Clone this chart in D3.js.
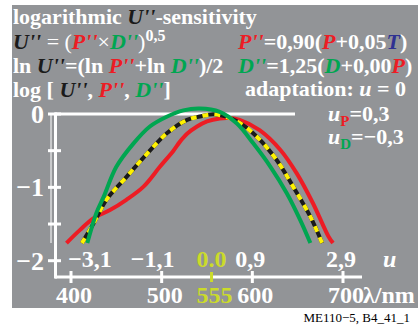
<!DOCTYPE html>
<html>
<head>
<meta charset="utf-8">
<script src="https://cdn.jsdelivr.net/npm/d3@7"></script>
<style>
body { margin: 0; background: #fff; }
svg { display: block; }
text { font-family: "Liberation Serif", "Times New Roman", serif; }
</style>
</head>
<body>
<div id="chart"></div>
<script>
// curves: wavelength (nm) and log sensitivity
const pLambda = [395, 410, 425, 443, 461, 480, 498, 513, 520, 528, 539, 550, 564, 575, 586, 608, 631, 649, 667, 684, 689];
const pValue  = [-1.76, -1.58, -1.42, -1.31, -1.17, -0.99, -0.72, -0.50, -0.38, -0.27, -0.17, -0.10, -0.06, -0.055, -0.08, -0.22, -0.49, -0.81, -1.22, -1.67, -1.76];

const dLambda = [418, 428, 436, 450, 469, 487, 505, 524, 542, 564, 583, 601, 620, 638, 653, 664];
const dValue  = [-1.76, -1.35, -1.13, -0.72, -0.40, -0.17, -0.04, 0.05, 0.075, 0.03, -0.13, -0.40, -0.72, -1.08, -1.45, -1.76];

const uLambda = [412, 425, 439, 461, 484, 506, 528, 542, 558, 583, 605, 627, 645, 664, 677];
const uValue  = [-1.76, -1.49, -1.17, -0.86, -0.54, -0.26, -0.08, -0.035, -0.005, -0.10, -0.31, -0.63, -0.99, -1.40, -1.76];

const lambdaTicks = [400, 500, 555, 600, 700];
const lambdaLabels = ["400", "500", "555", "600", "700"];
const uLabels = ["\u22123,1", "\u22121,1", "0.0", "0,9", "2,9"];
const yTicks = [0, -0.5, -1, -1.5, -2];
const yLabelValues = [0, -1, -2];
const yLabelText = ["0", "\u22121", "\u22122"];

const W = 418, H = 326;
const RED = "#ed1c24", GREEN = "#00a651", BLUE = "#2e3192", BLACK = "#1a1a1a";
const YG = "#cbdb2a", YEL = "#fff200", GRAY = "#929497";

const svg = d3.select("#chart").append("svg").attr("width", W).attr("height", H);

svg.append("rect").attr("x", 12).attr("y", 5).attr("width", 406).attr("height", 303).attr("fill", GRAY);

const x = d3.scaleLinear().domain([400, 700]).range([71, 343]);
const y = d3.scaleLinear().domain([0, -2]).range([114, 260.7]);

// rich text: parts are [text, style]
const styles = {
    w:  {fill: "#fff"},
    wn: {fill: "#fff", weight: "normal"},
    wi: {fill: "#fff", italic: true},
    k:  {fill: BLACK, italic: true},
    r:  {fill: RED, italic: true},
    g:  {fill: GREEN, italic: true},
    b:  {fill: BLUE, italic: true},
    rs: {fill: RED, size: 15, dy: 5},
    gs: {fill: GREEN, size: 15, dy: 5},
    sup: {fill: "#fff", size: 16, dy: -8}
};
function rich(px, py, parts, size) {
    const t = svg.append("text").attr("x", px).attr("y", py).attr("font-size", size);
    let shift = 0;
    parts.forEach(function (p) {
        const s = styles[p[1]];
        const d = (s.dy || 0) - shift;
        shift = s.dy || 0;
        t.append("tspan")
            .attr("dy", d)
            .attr("fill", s.fill)
            .attr("font-size", s.size || size)
            .style("font-style", s.italic ? "italic" : "normal")
            .style("font-weight", s.weight || "bold")
            .text(p[0]);
    });
    return t;
}

rich(13, 24, [["logarithmic ", "w"], ["U''", "k"], ["-sensitivity", "w"]], 22);
rich(13, 49, [["U''", "k"], [" = (", "wn"], ["P''", "r"], ["\u00d7", "wn"], ["D''", "g"], [")", "wn"], ["0,5", "sup"]], 22);
rich(13, 73, [["ln ", "w"], ["U''", "k"], ["=(ln ", "w"], ["P''", "r"], ["+ln ", "w"], ["D''", "g"], [")/2", "w"]], 22);
rich(13, 97, [["log [ ", "w"], ["U''", "k"], [", ", "w"], ["P''", "r"], [", ", "w"], ["D''", "g"], ["]", "w"]], 22);

rich(238, 49, [["P''", "r"], ["=0,90(", "w"], ["P", "r"], ["+0,05", "w"], ["T", "b"], [")", "w"]], 22);
rich(238, 73, [["D''", "g"], ["=1,25(", "w"], ["D", "g"], ["+0,00", "w"], ["P", "r"], [")", "w"]], 22);
rich(245, 96, [["adaptation: ", "w"], ["u", "wi"], [" = 0", "w"]], 22);

rich(328, 121, [["u", "wi"], ["P", "rs"], ["=0,3", "w"]], 22);
rich(328, 144, [["u", "wi"], ["D", "gs"], ["=\u22120,3", "w"]], 22);

// axes
svg.append("line").attr("x1", 51).attr("x2", 51).attr("y1", y(0) - 1).attr("y2", 243)
    .attr("stroke", "#fff").attr("stroke-width", 1);
svg.append("line").attr("x1", 55.5).attr("x2", 55.5).attr("y1", y(0) - 1.5).attr("y2", 278.5)
    .attr("stroke", "#fff").attr("stroke-width", 3);
svg.append("line").attr("x1", 55).attr("x2", 362).attr("y1", 277).attr("y2", 277)
    .attr("stroke", "#fff").attr("stroke-width", 3);
svg.append("line").attr("x1", 55).attr("x2", 295).attr("y1", y(0)).attr("y2", y(0))
    .attr("stroke", "#fff").attr("stroke-width", 3);

svg.selectAll("line.ytick").data(yTicks).enter().append("line")
    .attr("class", "ytick")
    .attr("x1", 48).attr("x2", 61)
    .attr("y1", d => y(d)).attr("y2", d => y(d))
    .attr("stroke", "#fff").attr("stroke-width", 3);

svg.selectAll("text.ylab").data(yLabelValues).enter().append("text")
    .attr("class", "ylab")
    .attr("x", 44).attr("y", d => y(d) + 9)
    .attr("text-anchor", "end").attr("font-size", 26).attr("fill", "#fff")
    .style("font-weight", "bold")
    .text((d, i) => yLabelText[i]);

svg.selectAll("line.xtick").data(lambdaTicks).enter().append("line")
    .attr("class", "xtick")
    .attr("x1", d => x(d)).attr("x2", d => x(d))
    .attr("y1", d => d === 555 ? 272 : 271).attr("y2", d => d === 555 ? 282 : 283)
    .attr("stroke", d => d === 555 ? YG : "#fff").attr("stroke-width", 3);

svg.selectAll("text.xlab").data(lambdaTicks).enter().append("text")
    .attr("class", "xlab")
    .attr("x", d => x(d) + 3).attr("y", 303)
    .attr("text-anchor", "middle").attr("font-size", 24)
    .attr("fill", d => d === 555 ? YG : "#fff")
    .style("font-weight", "bold")
    .text((d, i) => lambdaLabels[i]);
svg.append("text").attr("x", 363).attr("y", 303).attr("font-size", 24).attr("fill", "#fff")
    .style("font-weight", "bold")
    .text("\u03bb/nm");

const uShift = [19, -9, 0, -2, -2];
svg.selectAll("text.ulab").data(lambdaTicks).enter().append("text")
    .attr("class", "ulab")
    .attr("x", (d, i) => x(d) + uShift[i]).attr("y", 267)
    .attr("text-anchor", "middle").attr("font-size", 24)
    .attr("fill", d => d === 555 ? YG : "#fff")
    .style("font-weight", "bold")
    .text((d, i) => uLabels[i]);
svg.append("text").attr("x", 383).attr("y", 267).attr("font-size", 24).attr("fill", "#fff")
    .style("font-weight", "bold").style("font-style", "italic").text("u");

// curves
const line = d3.line().x(d => x(d[0])).y(d => y(d[1])).curve(d3.curveCatmullRom.alpha(0.5));
const pData = d3.zip(pLambda, pValue);
const dData = d3.zip(dLambda, dValue);
const uData = d3.zip(uLambda, uValue);

svg.append("path").datum(pData).attr("d", line)
    .attr("fill", "none").attr("stroke", RED).attr("stroke-width", 4);
svg.append("path").datum(uData).attr("d", line)
    .attr("fill", "none").attr("stroke", BLACK).attr("stroke-width", 4);
svg.append("path").datum(uData).attr("d", line)
    .attr("fill", "none").attr("stroke", YEL).attr("stroke-width", 4).attr("stroke-dasharray", "6,6");
svg.append("path").datum(dData).attr("d", line)
    .attr("fill", "none").attr("stroke", GREEN).attr("stroke-width", 4);

svg.append("text").attr("x", 410).attr("y", 322).attr("text-anchor", "end")
    .attr("font-size", 13).attr("fill", "#000")
    .style("font-weight", "normal")
    .text("ME110\u22125, B4_41_1");
</script>
</body>
</html>
